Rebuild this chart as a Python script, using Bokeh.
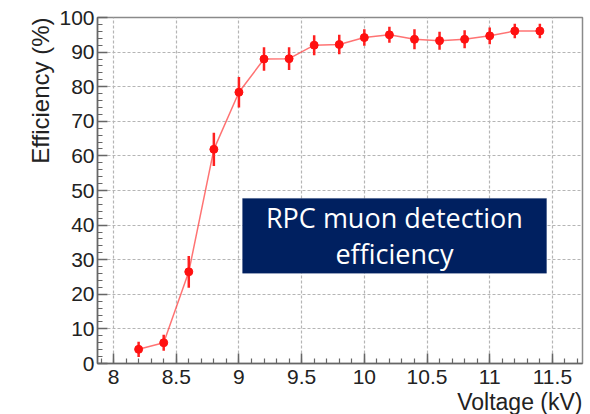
import numpy as np
from bokeh.plotting import figure
from bokeh.models import (ColumnDataSource, Range1d, FixedTicker, Title, BoxAnnotation, Label)
from bokeh.embed import file_html
from bokeh.resources import INLINE

voltage = [8.2, 8.4, 8.6, 8.8, 9.0, 9.2, 9.4, 9.6, 9.8, 10.0, 10.2, 10.4, 10.6, 10.8, 11.0, 11.2, 11.4]
efficiency = [4.1, 6.0, 26.5, 61.9, 78.4, 88.0, 88.1, 92.0, 92.2, 94.2, 95.0, 93.7, 93.3, 93.7, 94.7, 96.1, 96.1]
error = [2.2, 2.3, 4.6, 4.8, 4.4, 3.4, 3.3, 2.9, 2.8, 2.4, 2.3, 2.9, 2.6, 2.6, 2.4, 2.1, 2.1]
x_major = [8, 8.5, 9, 9.5, 10, 10.5, 11, 11.5]
y_major = [0, 10, 20, 30, 40, 50, 60, 70, 80, 90, 100]
box_text = ["RPC muon detection", "efficiency"]

src = ColumnDataSource(dict(
    x=voltage, y=efficiency,
    lo=[e - d for e, d in zip(efficiency, error)],
    hi=[e + d for e, d in zip(efficiency, error)],
))

FONT = "Liberation Sans"

p = figure(width=590, height=414, output_backend="svg", toolbar_location=None,
           x_range=Range1d(7.872, 11.74), y_range=Range1d(0, 100),
           min_border_left=97, min_border_top=17, min_border_right=8, min_border_bottom=49)

p.outline_line_color = "#8a8a8a"
p.outline_line_width = 1.5
p.background_fill_color = "white"
p.border_fill_color = "white"

for g in (p.xgrid, p.ygrid):
    g.grid_line_color = "#b5b5b5"
    g.grid_line_dash = "3 2"
    g.grid_line_width = 1.2

p.xaxis.ticker = FixedTicker(ticks=x_major, minor_ticks=list(np.round(np.arange(7.9, 11.75, 0.1), 2)))
p.yaxis.ticker = FixedTicker(ticks=y_major, minor_ticks=list(range(0, 101, 2)))

for ax in (p.xaxis, p.yaxis):
    ax.axis_line_color = "#666666"
    ax.axis_line_width = 1.5
    ax.major_tick_in = 10
    ax.major_tick_out = 0
    ax.minor_tick_in = 5
    ax.minor_tick_out = 0
    ax.major_tick_line_color = "#666666"
    ax.minor_tick_line_color = "#666666"
    ax.major_tick_line_width = 1.5
    ax.minor_tick_line_width = 1.2
    ax.major_label_text_font = FONT
    ax.major_label_text_font_size = "21px"
    ax.major_label_text_color = "#222222"
    ax.major_label_standoff = 3

p.xaxis.major_label_standoff = 6

xt = Title(text="Voltage (kV)", align="right", text_font=FONT, text_font_size="23px",
           text_color="#222222", text_font_style="normal", standoff=0)
p.add_layout(xt, "below")
yt = Title(text="Efficiency (%)", align="right", text_font=FONT, text_font_size="24px",
           text_color="#222222", text_font_style="normal", standoff=6)
p.add_layout(yt, "left")

p.line("x", "y", source=src, line_color="#ff5050", line_width=1.5, line_alpha=0.8)
p.segment("x", "lo", "x", "hi", source=src, line_color="#ff2020", line_width=2.5)
p.scatter("x", "y", source=src, size=8, fill_color="#ff1010", line_color="#ff1010")

box = BoxAnnotation(left=9.029, right=11.453, bottom=26.1, top=47.7,
                    fill_color="#002060", fill_alpha=1.0, line_color="#002060")
p.add_layout(box)
p.add_layout(Label(x=10.24, y=42.3, text=box_text[0], text_align="center", text_baseline="alphabetic",
                   text_font="Open Sans", text_font_size="27px", text_color="white"))
p.add_layout(Label(x=10.24, y=31.9, text=box_text[1], text_align="center", text_baseline="alphabetic",
                   text_font="Open Sans", text_font_size="27px", text_color="white"))

open("out.html", "w").write(file_html(p, INLINE))
